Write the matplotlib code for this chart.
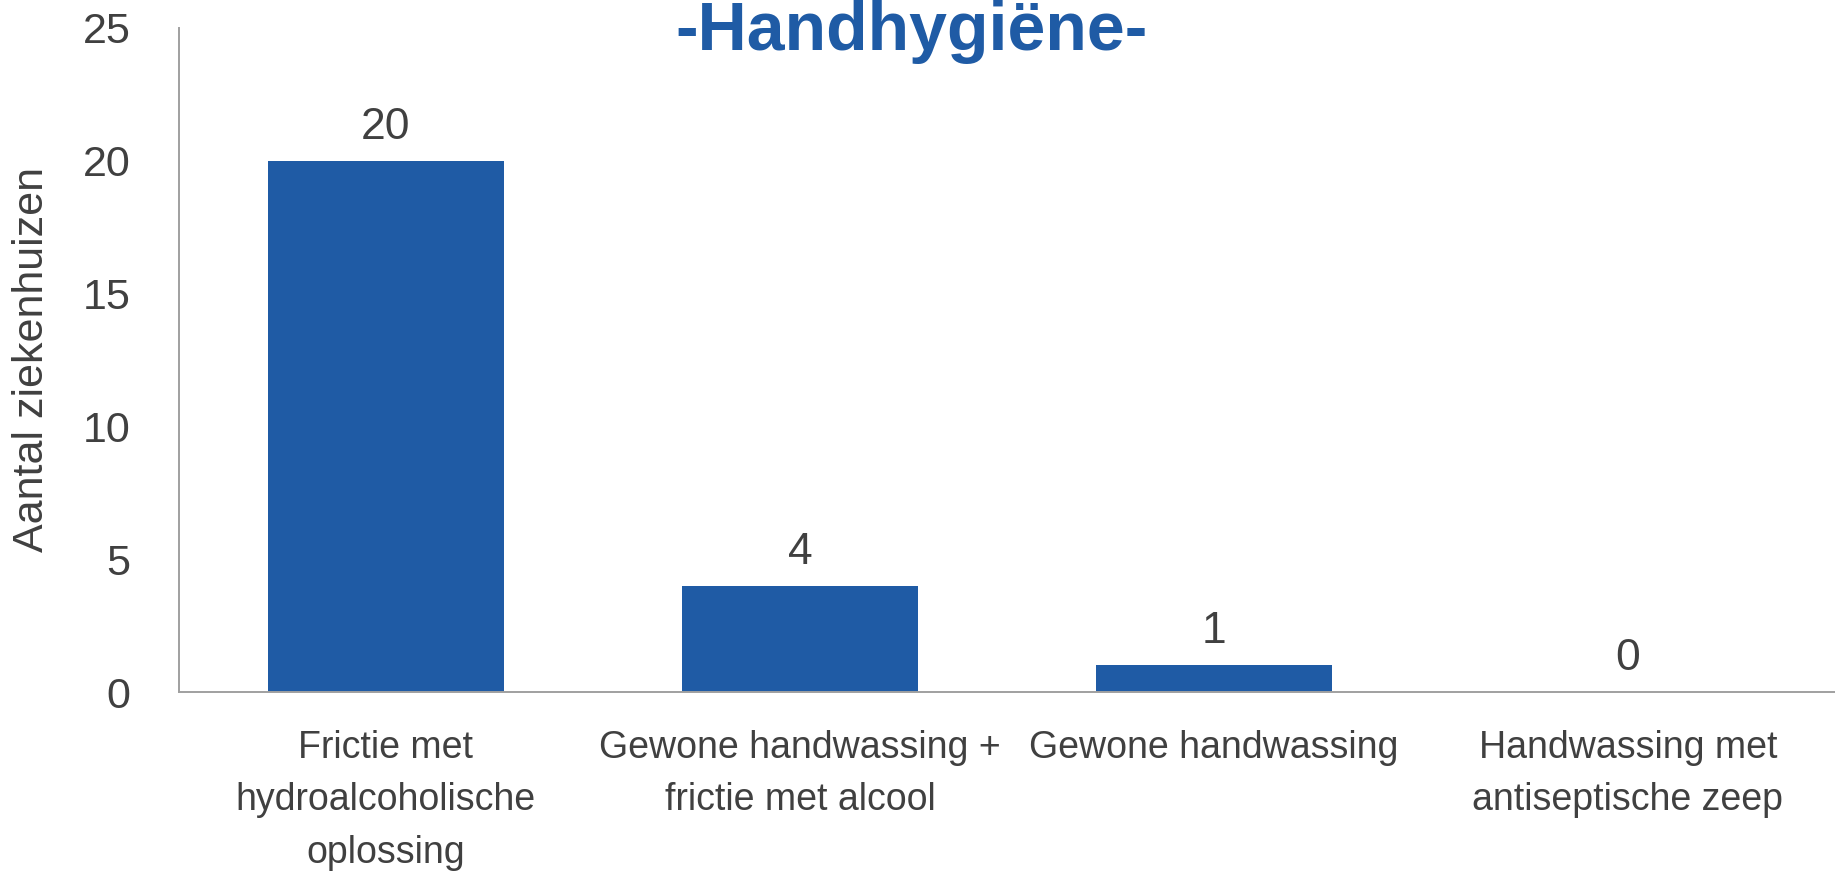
import matplotlib
matplotlib.use("Agg")
from matplotlib import pyplot as plt

categories = ["Frictie met\nhydroalcoholische\noplossing",
              "Gewone handwassing +\nfrictie met alcool",
              "Gewone handwassing",
              "Handwassing met\nantiseptische zeep"]
values = [20, 4, 1, 0]
yticks = [0, 5, 10, 15, 20, 25]

blue = "#1F5BA5"
grey_text = "#404040"
narrow = ["Liberation Sans", "DejaVu Sans"]

fig = plt.figure(figsize=(18.35, 8.71), dpi=100)
ax = fig.add_axes([0.0975, 0.2055, 0.9025, 0.7624])

x = range(len(values))
bars = ax.bar(x, values, width=0.57, color=blue)

# data labels above the bars
for xi, v in zip(x, values):
    ax.annotate(str(v), (xi, v), xytext=(0, 16), textcoords="offset points",
                ha="center", va="baseline", fontsize=32, color=grey_text,
                family=narrow)

ax.set_xlim(-0.5, 3.5)
ax.set_ylim(0, 25)
ax.set_yticks(yticks)
ax.set_yticklabels([str(t) for t in yticks], fontsize=31, color=grey_text,
                   family=narrow)
ax.set_xticks(list(x))
ax.set_xticklabels(categories, fontsize=27, color=grey_text, family=narrow,
                   linespacing=1.6)
ax.tick_params(axis="y", length=0, pad=35)
ax.tick_params(axis="x", length=0, pad=27)

for s in ["top", "right"]:
    ax.spines[s].set_visible(False)
for s in ["left", "bottom"]:
    ax.spines[s].set_color("#A0A0A0")
    ax.spines[s].set_linewidth(1.4)

fig.text(0.0175, 0.5875, "Aantal ziekenhuizen", rotation=90, ha="center",
         va="center", fontsize=31, color=grey_text, family=narrow)

fig.text(0.497, 0.9426, "-Handhygiëne-", ha="center", va="baseline",
         fontsize=49, fontweight="bold", color=blue, family=narrow)

plt.savefig("out.png", dpi=100)
plt.close()
